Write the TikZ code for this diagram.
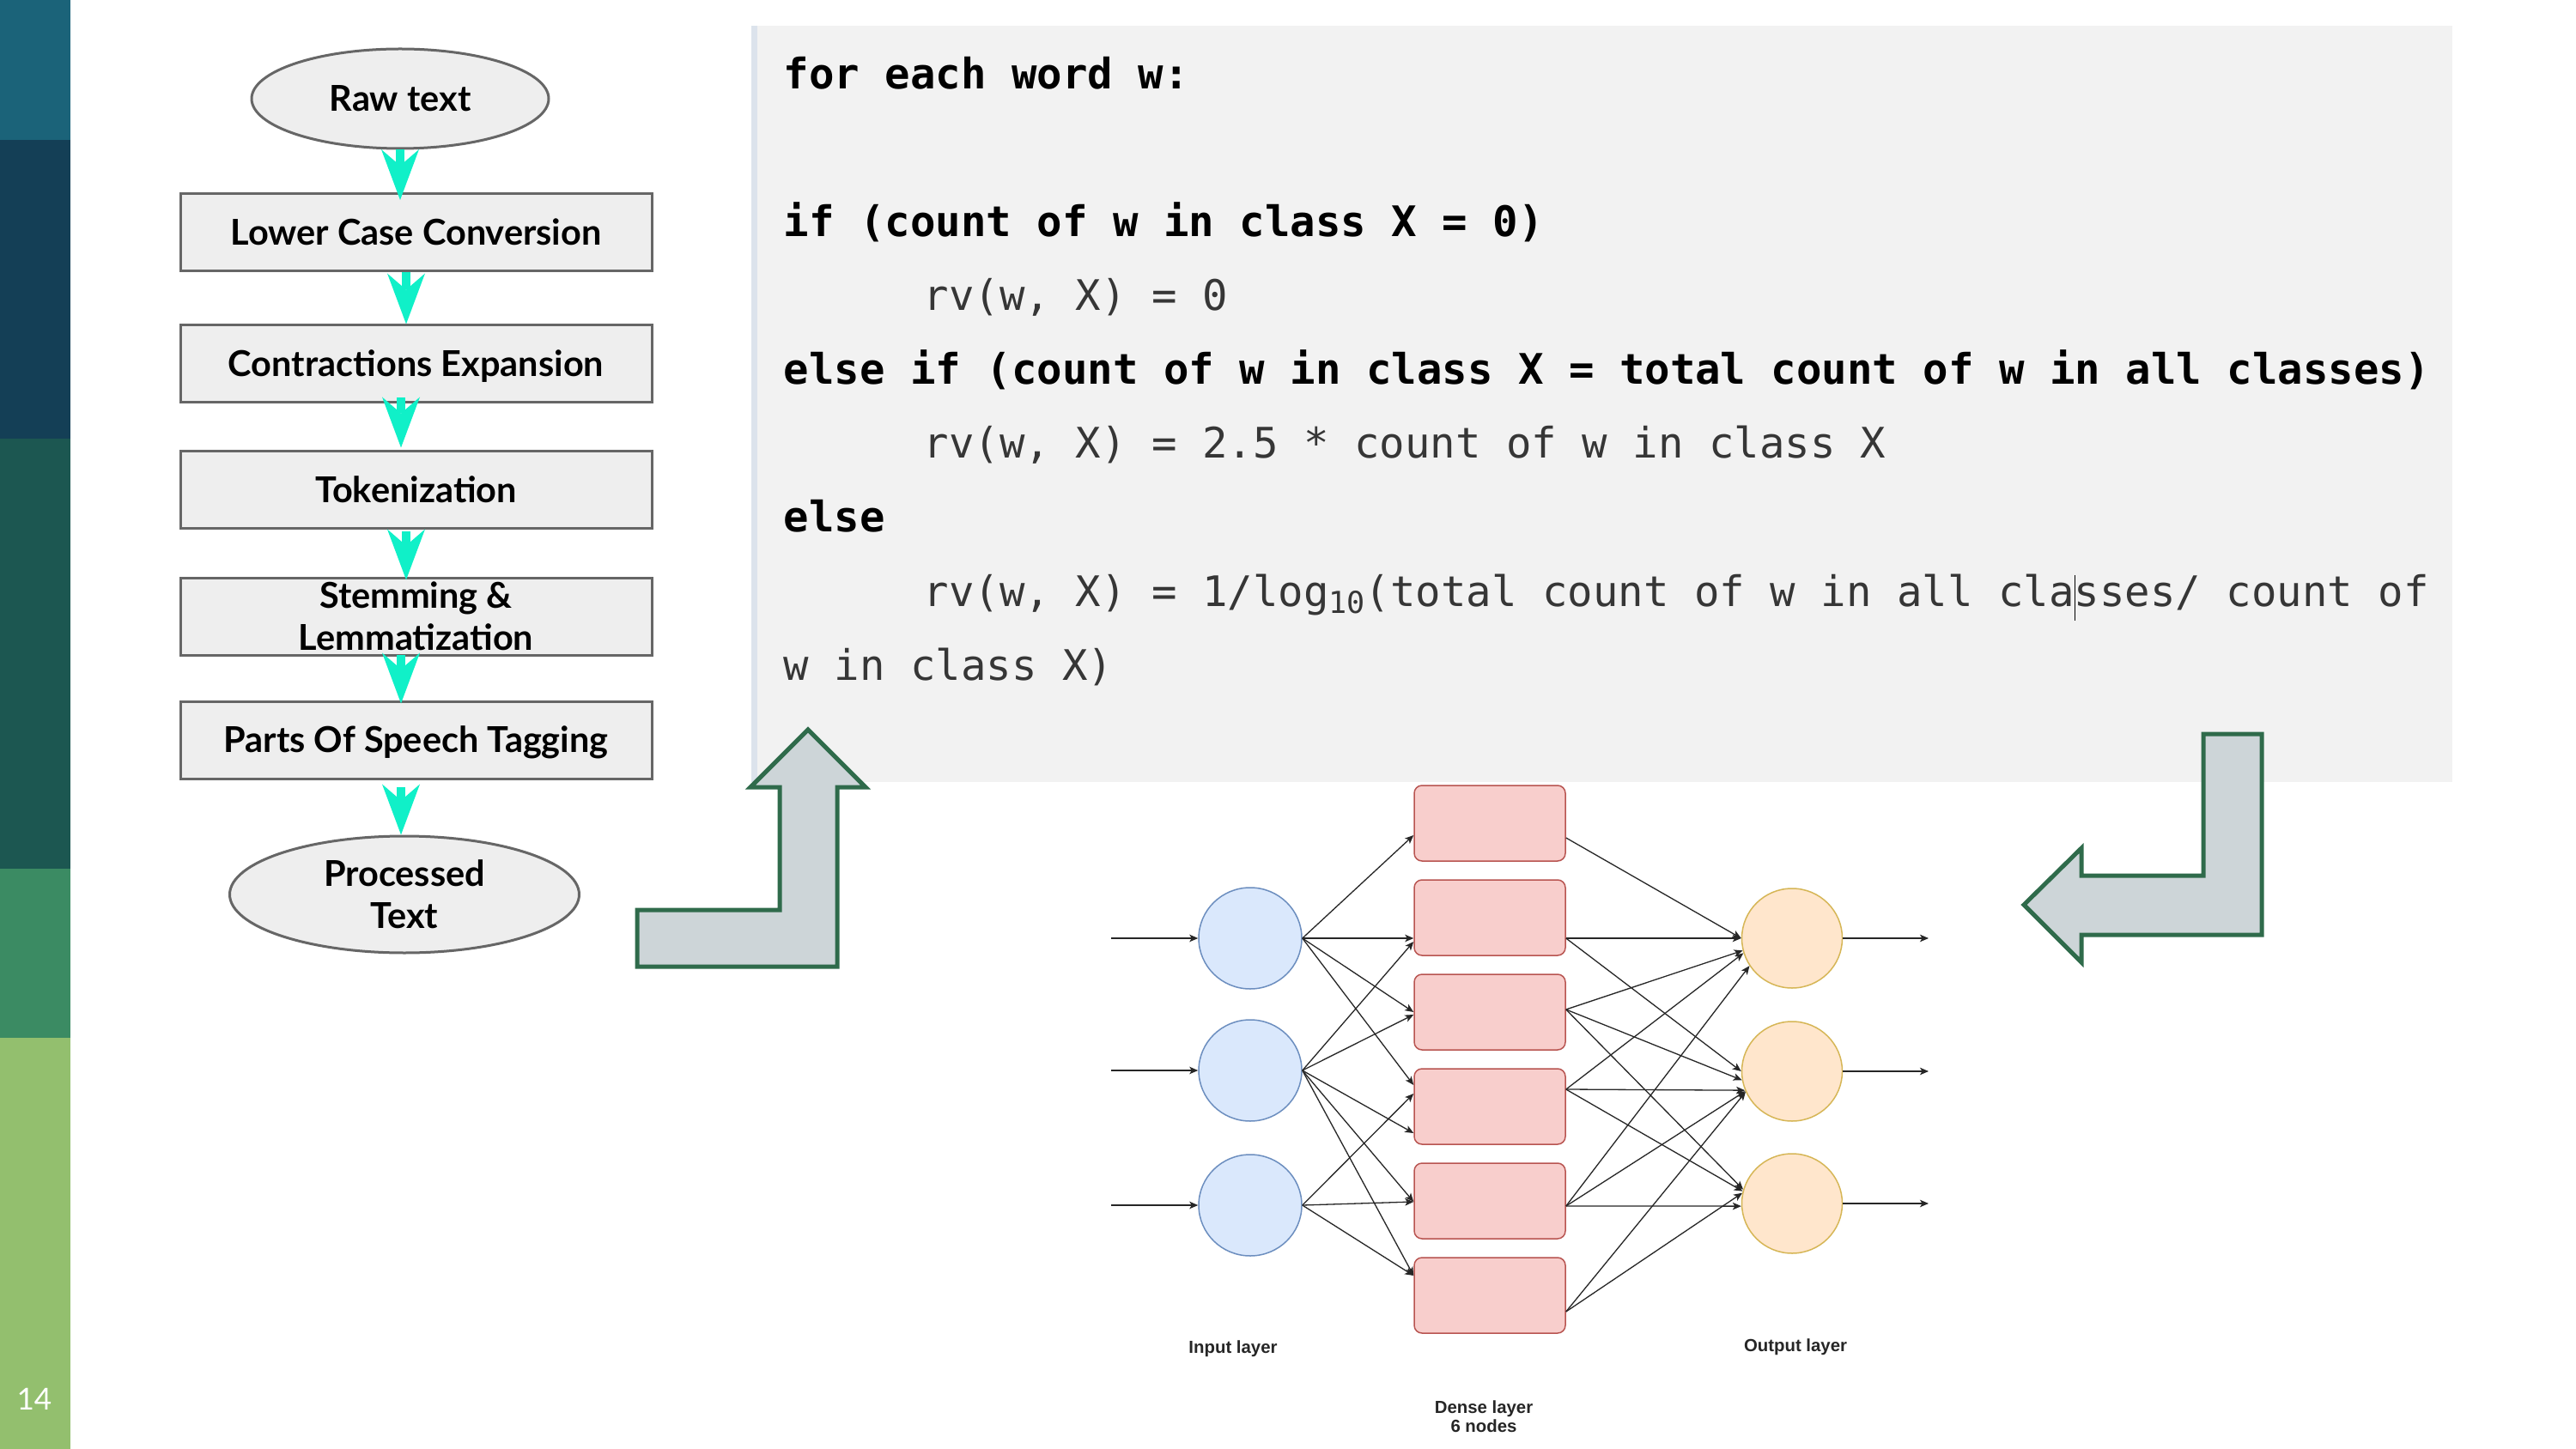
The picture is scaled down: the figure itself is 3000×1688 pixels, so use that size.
\documentclass[tikz,border=0pt]{standalone}
\usepackage{fontspec}
\setmainfont{Lato}
\newfontfamily\codefont{DejaVu Sans Mono}
\newfontfamily\labfont{Liberation Sans}
\usetikzlibrary{arrows.meta,shapes.geometric,calc}
\definecolor{barA}{HTML}{1B6379}
\definecolor{barB}{HTML}{143F56}
\definecolor{barC}{HTML}{1C5751}
\definecolor{barD}{HTML}{3B8B63}
\definecolor{barE}{HTML}{93BF6E}
\definecolor{flowfill}{HTML}{EEEEEE}
\definecolor{flowline}{HTML}{666666}
\definecolor{aqua}{HTML}{10F0C8}
\definecolor{codebg}{HTML}{F2F2F2}
\definecolor{codeedge}{HTML}{DCE3EC}
\definecolor{codegray}{HTML}{363636}
\definecolor{blockfill}{HTML}{CDD5D8}
\definecolor{blockline}{HTML}{2F6B4B}
\definecolor{inFill}{HTML}{DAE8FC}
\definecolor{inLine}{HTML}{6C8EBF}
\definecolor{dFill}{HTML}{F8CECC}
\definecolor{dLine}{HTML}{B85450}
\definecolor{oFill}{HTML}{FFE6CC}
\definecolor{oLine}{HTML}{D6B656}
\begin{document}
\begin{tikzpicture}[x=0.1mm,y=-0.1mm,
  flowbox/.style={draw=flowline,fill=flowfill,line width=0.3mm,inner sep=0pt,minimum width=54.9mm,minimum height=9mm},
  flowoval/.style={ellipse,draw=flowline,fill=flowfill,line width=0.3mm,inner sep=0pt},
  flowfont/.style={font=\fontsize{11.8}{13.9}\selectfont\bfseries,text=black},
  oneline/.style={flowfont,text height=8.45pt,text depth=0pt},
  flowtxt/.style={flowfont,inner sep=0pt,align=center},
  flowarrow/.style={draw=aqua,line width=1mm,-{Stealth[length=5.9mm,width=4.4mm,inset=1.9mm,line width=0pt]}},
  codeb/.style={anchor=base west,inner sep=0pt,font=\codefont\bfseries\fontsize{13.94}{16}\selectfont,text=black},
  coder/.style={anchor=base west,inner sep=0pt,font=\codefont\fontsize{13.94}{16}\selectfont,text=codegray},
  blockarrow/.style={draw=blockline,fill=blockfill,line width=0.5mm,miter limit=10},
  inNode/.style={ellipse,draw=inLine,fill=inFill,line width=0.15mm,minimum width=12mm,minimum height=11.8mm,inner sep=0pt},
  denseNode/.style={rectangle,rounded corners=0.9mm,draw=dLine,fill=dFill,line width=0.15mm,minimum width=17.6mm,minimum height=8.8mm,inner sep=0pt},
  outNode/.style={ellipse,draw=oLine,fill=oFill,line width=0.15mm,minimum width=11.7mm,minimum height=11.6mm,inner sep=0pt},
  nnarrow/.style={draw=black!85,line width=0.13mm,-{Stealth[length=1mm,width=0.85mm,inset=0.25mm]}},
  nnlabel/.style={inner sep=0pt,align=center,font=\labfont\bfseries\fontsize{5.8}{6.3}\selectfont,text=black!85}
]
\useasboundingbox (0,0) rectangle (3000,1688);
\fill[white] (0,0) rectangle (3000,1688);
% side bar
\fill[barA] (0,0) rectangle (82,163);
\fill[barB] (0,163) rectangle (82,511);
\fill[barC] (0,511) rectangle (82,1012);
\fill[barD] (0,1012) rectangle (82,1209);
\fill[barE] (0,1209) rectangle (82,1688);
\node[inner sep=0pt,font=\fontsize{10}{12}\selectfont,text=white] (pagenum) at (40,1630) {14};

% code panel
\fill[codebg] (877,30) rectangle (2856,911);
\draw[codeedge,line width=0.7mm] (878.5,30) -- (878.5,911);
\node[codeb] (c1) at (912,104) {for each word w:};
\node[codeb] (c3) at (912,276) {if (count of w in class X = 0)};
\node[coder] (c4) at (1075,362) {rv(w, X) = 0};
\node[codeb] (c5) at (912,448) {else if (count of w in class X = total count of w in all classes)};
\node[coder] (c6) at (1075,534) {rv(w, X) = 2.5 * count of w in class X};
\node[codeb] (c7) at (912,620) {else};
\node[coder] (c8) at (1075,706) {rv(w, X) = 1/log{\fontsize{10}{10}\selectfont\raisebox{-2.5pt}{10}}(total count of w in all cla\rlap{\color{black}\rule[-4.8pt]{0.35pt}{15pt}}sses/ count of};
\node[coder] (c9) at (912,792) {w in class X)};

% flowchart
\node[flowoval,minimum width=34.6mm,minimum height=11.6mm,oneline] (raw) at (466,115) {Raw text};
\node[flowbox,oneline] (lcc) at (484.5,270.5) {Lower Case Conversion};
\node[flowbox,oneline] (cex) at (484.5,424) {Contractions Expansion};
\node[flowbox,oneline] (tok) at (484.5,571) {Tokenization};
\node[flowbox] (stl) at (484.5,718) {};
\node[flowtxt] (stlt) at (stl.center) {Stemming \&\\Lemmatization};
\node[flowbox,oneline] (pos) at (484.5,862) {Parts Of Speech Tagging};
\node[flowoval,minimum width=40.7mm,minimum height=13.6mm] (proc) at (471,1042) {};
\node[flowtxt] (proct) at (proc.center) {Processed\\Text};

\draw[flowarrow] (raw.south) -- ($(lcc.north)+(-18.5,9)$);
\draw[flowarrow] ($(lcc.south)+(-11.5,0)$) -- ($(cex.north)+(-11.5,0)$);
\draw[flowarrow] ($(cex.south)+(-17.5,-7)$) -- ($(tok.north)+(-17.5,-3)$);
\draw[flowarrow] ($(tok.south)+(-11.5,2)$) -- ($(stl.north)+(-11.5,4)$);
\draw[flowarrow] ($(stl.south)+(-17.5,-2)$) -- ($(pos.north)+(-17.5,4)$);
\draw[flowarrow] ($(pos.south)+(-17.5,8)$) -- ($(proc.north)+(-4,0)$);

% block arrows
\draw[blockarrow] (742,1060) -- (908,1060) -- (908,917) -- (874,917) -- (941,850) -- (1008,917) -- (975,917) -- (975,1126) -- (742,1126) -- cycle;
\draw[blockarrow] (2634,855) -- (2634,1089) -- (2424,1089) -- (2424,1121) -- (2357,1054) -- (2424,988) -- (2424,1020) -- (2566,1020) -- (2566,855) -- cycle;

% neural network
\node[inNode] (I1) at (1456,1093) {};
\node[inNode] (I2) at (1456,1247) {};
\node[inNode] (I3) at (1456,1404) {};
\node[denseNode] (D1) at (1735,959) {};
\node[denseNode] (D2) at (1735,1069) {};
\node[denseNode] (D3) at (1735,1179) {};
\node[denseNode] (D4) at (1735,1289) {};
\node[denseNode] (D5) at (1735,1399) {};
\node[denseNode] (D6) at (1735,1509) {};
\node[outNode] (O1) at (2087,1093) {};
\node[outNode] (O2) at (2087,1248) {};
\node[outNode] (O3) at (2087,1402) {};

\coordinate (src1) at (1294,1093);
\coordinate (src2) at (1294,1247);
\coordinate (src3) at (1294,1404);
\coordinate (dst1) at (2246,1093);
\coordinate (dst2) at (2246,1248);
\coordinate (dst3) at (2246,1402);
\draw[nnarrow] (src1) -- (I1.west);
\draw[nnarrow] (src2) -- (I2.west);
\draw[nnarrow] (src3) -- (I3.west);
\draw[nnarrow] (O1.east) -- (dst1);
\draw[nnarrow] (O2.east) -- (dst2);
\draw[nnarrow] (O3.east) -- (dst3);

% input -> dense
\draw[nnarrow] (I1.east) -- ($(D1.west)+(0,14)$);
\draw[nnarrow] (I1.east) -- ($(D2.west)+(0,24)$);
\draw[nnarrow] (I1.east) -- ($(D3.west)+(0,0)$);
\draw[nnarrow] (I1.east) -- ($(D4.west)+(0,-25)$);
\draw[nnarrow] (I2.east) -- ($(D2.west)+(0,28)$);
\draw[nnarrow] (I2.east) -- ($(D3.west)+(0,3)$);
\draw[nnarrow] (I2.east) -- ($(D4.west)+(0,31)$);
\draw[nnarrow] (I2.east) -- ($(D5.west)+(0,1)$);
\draw[nnarrow] (I2.east) -- ($(D6.west)+(0,-23)$);
\draw[nnarrow] (I3.east) -- ($(D4.west)+(0,-15)$);
\draw[nnarrow] (I3.east) -- ($(D5.west)+(0,1)$);
\draw[nnarrow] (I3.east) -- ($(D6.west)+(0,-23)$);

% dense -> output
\draw[nnarrow] ($(D1.east)+(0,17)$) -- (O1.west);
\draw[nnarrow] ($(D2.east)+(0,24)$) -- (O1.west);
\draw[nnarrow] ($(D2.east)+(0,24)$) -- (O2.west);
\draw[nnarrow] ($(D3.east)+(0,-3)$) -- (O1.194);
\draw[nnarrow] ($(D3.east)+(0,-3)$) -- (O2.190);
\draw[nnarrow] ($(D3.east)+(0,-3)$) -- (O3.164);
\draw[nnarrow] ($(D4.east)+(0,-20)$) -- (O1.197);
\draw[nnarrow] ($(D4.east)+(0,-20)$) -- (O2.202);
\draw[nnarrow] ($(D4.east)+(0,-20)$) -- (O3.166);
\draw[nnarrow] ($(D5.east)+(0,6)$) -- (O1.213);
\draw[nnarrow] ($(D5.east)+(0,6)$) -- (O2.203);
\draw[nnarrow] ($(D5.east)+(0,6)$) -- (O3.183);
\draw[nnarrow] ($(D6.east)+(0,19)$) -- (O2.204);
\draw[nnarrow] ($(D6.east)+(0,19)$) -- (O3.168);

\node[nnlabel] (inl) at (1436,1571) {Input layer};
\node[nnlabel] (outl) at (2091,1569) {Output layer};
\node[nnlabel] (dl) at (1728,1650) {Dense layer\\6 nodes};
\end{tikzpicture}
\end{document}
